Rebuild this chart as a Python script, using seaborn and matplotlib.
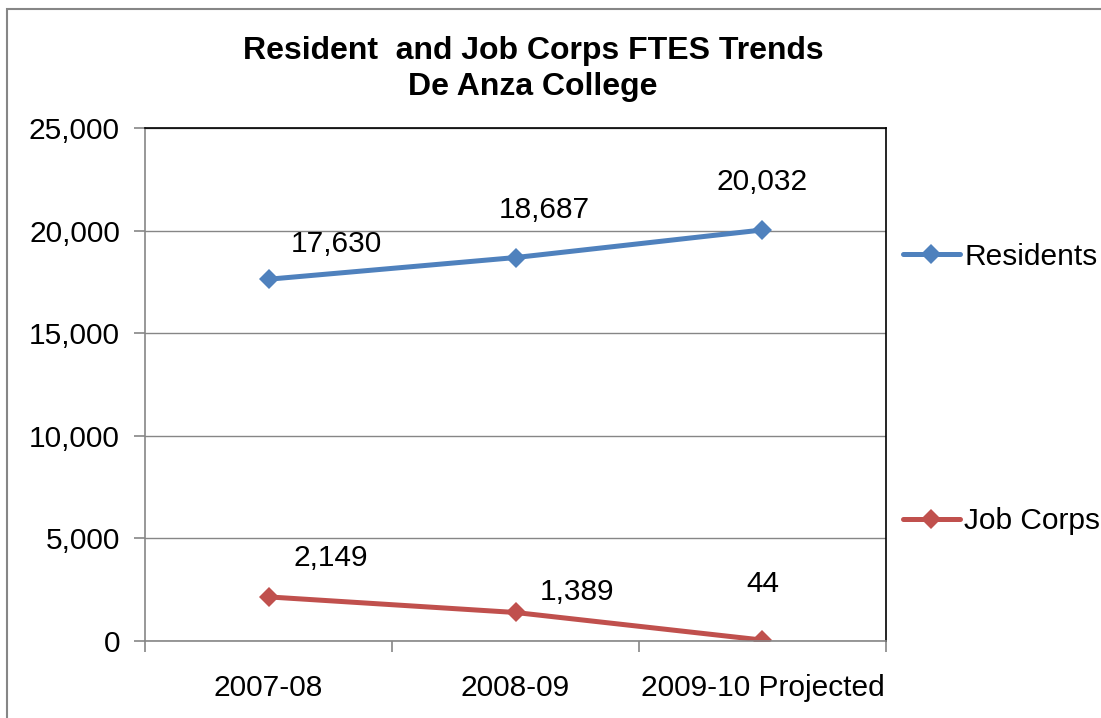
import numpy as np
import pandas as pd
import matplotlib
matplotlib.use("Agg")
import matplotlib.pyplot as plt
from matplotlib.patches import Rectangle
from matplotlib.lines import Line2D
import seaborn as sns

# datos
years = ["2007-08", "2008-09", "2009-10 Projected"]
residents = [17630, 18687, 20032]
job_corps = [2149, 1389, 44]
series_names = ["Residents", "Job Corps"]
colors = ["#4F81BD", "#C0504D"]

df = pd.DataFrame({
    "year": years * 2,
    "x": list(range(len(years))) * 2,
    "FTES": residents + job_corps,
    "serie": [series_names[0]] * 3 + [series_names[1]] * 3,
})

sns.set_theme(style="white")
plt.rcParams["font.family"] = ["Liberation Sans", "DejaVu Sans"]
plt.rcParams["text.color"] = "black"

fs = 21.5

fig = plt.figure(figsize=(11.01, 7.18), dpi=100)
ax = fig.add_axes([145 / 1101, 1 - 641 / 718, (886 - 145) / 1101, (641 - 128) / 718])

sns.lineplot(data=df, x="x", y="FTES", hue="serie", palette=colors,
             marker="D", markersize=10, linewidth=3.6, markeredgewidth=0,
             ax=ax, legend=False)

ax.set_xlim(-0.5, 2.5)
ax.set_ylim(0, 25000)
ax.set_yticks(np.arange(0, 25001, 5000))
ax.set_yticklabels([f"{v:,.0f}" for v in np.arange(0, 25001, 5000)])
ax.set_xticks(range(len(years)))
ax.set_xticklabels(years)
ax.set_xticks([-0.5, 0.5, 1.5, 2.5], minor=True)
ax.tick_params(axis="x", which="major", bottom=True, length=0, pad=24, labelsize=fs,
               labelcolor="black")
ax.tick_params(axis="x", which="minor", bottom=True, length=8, width=1.2,
               color="#868686", direction="out")
ax.tick_params(axis="y", left=True, length=8, width=1.2, color="#868686", direction="out",
               pad=10, labelsize=fs, labelcolor="black")
ax.set_xlabel("")
ax.set_ylabel("")
ax.grid(axis="y", color="#868686", linewidth=1)
ax.set_axisbelow(True)
for s in ["left", "bottom"]:
    ax.spines[s].set_color("#868686")
    ax.spines[s].set_linewidth(1.2)
for s in ["top", "right"]:
    ax.spines[s].set_color("black")
    ax.spines[s].set_linewidth(1.2)

# etiquetas de datos (desplazamiento en pixeles)
offsets_res = [(68, 35), (29, 48), (0, 48)]
offsets_job = [(62, 39), (62, 20), (0, 56)]
for i, v in enumerate(residents):
    ax.annotate(f"{v:,}", (i, v), xytext=offsets_res[i], textcoords="offset pixels",
                ha="center", va="center", fontsize=fs, color="black")
for i, v in enumerate(job_corps):
    ax.annotate(f"{v:,}", (i, v), xytext=offsets_job[i], textcoords="offset pixels",
                ha="center", va="center", fontsize=fs, color="black")

fig.text(533 / 1101, 1 - 69 / 718, "Resident  and Job Corps FTES Trends\nDe Anza College",
         ha="center", va="center", fontsize=23, fontweight="bold", linespacing=1.25,
         color="black")

# leyenda separada como en Excel
handles = [Line2D([], [], color=c, marker="D", markersize=10, linewidth=3.6,
                  markeredgewidth=0) for c in colors]
leg = fig.legend(handles, series_names, loc="center left",
                 bbox_to_anchor=(903 / 1101, 1 - 389 / 718), frameon=False,
                 fontsize=fs, labelspacing=7.92, handlelength=1.9, handletextpad=0.15,
                 borderaxespad=0, borderpad=0)
for t in leg.get_texts():
    t.set_color("black")

fig.patches.append(Rectangle((7 / 1101, -0.1), 1.2, 1.1 - 9 / 718, transform=fig.transFigure,
                             fill=False, edgecolor="#868686", linewidth=1.5))

fig.savefig("out.png", dpi=100)
